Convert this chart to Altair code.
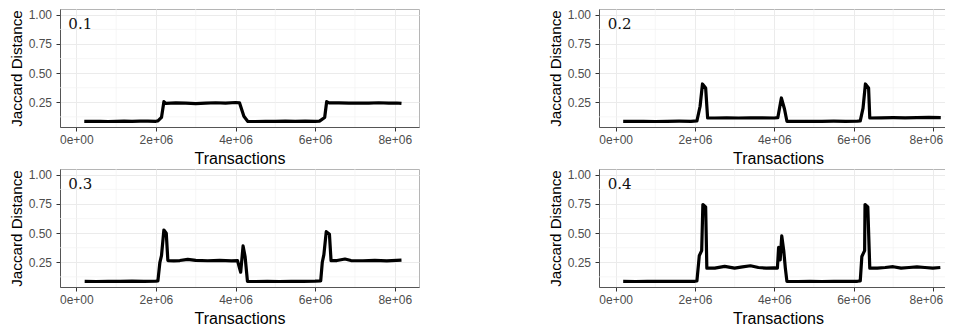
import altair as alt
import pandas as pd

# ---------------- data (x in millions of transactions) ----------------
x_01 = [0.2, 0.4, 0.6, 0.8, 1.0, 1.2, 1.4, 1.6, 1.8, 2.0, 2.05, 2.14, 2.2, 2.25, 2.5, 2.75, 3.0, 3.25, 3.5,
        3.75, 4.0, 4.1, 4.21, 4.31, 4.5, 4.75, 5.0, 5.25, 5.5, 5.75, 6.0, 6.11, 6.24, 6.29, 6.35, 6.6, 6.85,
        7.1, 7.35, 7.6, 7.85, 8.05, 8.17]
y_01 = [0.087, 0.086, 0.087, 0.085, 0.086, 0.088, 0.087, 0.089, 0.088, 0.087, 0.09, 0.12, 0.255, 0.24, 0.245,
        0.243, 0.238, 0.242, 0.246, 0.243, 0.248, 0.245, 0.13, 0.086, 0.085, 0.087, 0.086, 0.088, 0.087, 0.089,
        0.087, 0.088, 0.12, 0.255, 0.245, 0.245, 0.242, 0.244, 0.243, 0.246, 0.243, 0.244, 0.24]

x_02 = [0.19, 0.4, 0.7, 1.0, 1.3, 1.6, 1.9, 2.05, 2.13, 2.19, 2.27, 2.32, 2.5, 2.8, 3.1, 3.4, 3.7, 4.0, 4.09,
        4.18, 4.26, 4.32, 4.6, 4.9, 5.2, 5.5, 5.8, 6.1, 6.17, 6.24, 6.3, 6.38, 6.41, 6.7, 7.0, 7.3, 7.6, 7.9, 8.2]
y_02 = [0.087, 0.086, 0.087, 0.085, 0.087, 0.088, 0.087, 0.09, 0.216, 0.407, 0.373, 0.115, 0.115, 0.117, 0.115,
        0.116, 0.117, 0.115, 0.118, 0.287, 0.19, 0.087, 0.086, 0.087, 0.087, 0.088, 0.087, 0.088, 0.09, 0.2,
        0.407, 0.373, 0.115, 0.117, 0.118, 0.117, 0.118, 0.12, 0.118]

x_03 = [0.21, 0.5, 0.8, 1.1, 1.4, 1.7, 2.0, 2.05, 2.1, 2.14, 2.2, 2.26, 2.3, 2.45, 2.6, 2.8, 3.0, 3.3, 3.6, 3.9,
        4.05, 4.1, 4.13, 4.19, 4.24, 4.3, 4.5, 4.8, 5.1, 5.4, 5.7, 6.0, 6.14, 6.18, 6.22, 6.28, 6.36, 6.4, 6.55,
        6.75, 6.9, 7.2, 7.5, 7.8, 8.17]
y_03 = [0.086, 0.085, 0.087, 0.086, 0.088, 0.087, 0.088, 0.09, 0.25, 0.307, 0.527, 0.5, 0.265, 0.262, 0.265,
        0.275, 0.266, 0.263, 0.266, 0.262, 0.265, 0.2, 0.165, 0.39, 0.3, 0.086, 0.085, 0.086, 0.085, 0.087,
        0.086, 0.088, 0.09, 0.25, 0.315, 0.513, 0.49, 0.265, 0.265, 0.278, 0.265, 0.263, 0.266, 0.262, 0.268]

x_04 = [0.19, 0.5, 0.8, 1.1, 1.4, 1.7, 2.0, 2.05, 2.11, 2.17, 2.2, 2.27, 2.3, 2.5, 2.75, 3.0, 3.2, 3.4, 3.6,
        3.8, 4.0, 4.08, 4.11, 4.15, 4.19, 4.24, 4.28, 4.32, 4.6, 4.9, 5.2, 5.5, 5.8, 6.1, 6.17, 6.21, 6.28,
        6.29, 6.36, 6.41, 6.6, 6.8, 7.0, 7.2, 7.4, 7.6, 7.8, 8.0, 8.19]
y_04 = [0.086, 0.085, 0.087, 0.086, 0.087, 0.086, 0.087, 0.09, 0.307, 0.35, 0.745, 0.725, 0.2, 0.2, 0.215, 0.2,
        0.21, 0.22, 0.205, 0.2, 0.202, 0.2, 0.377, 0.27, 0.476, 0.35, 0.2, 0.086, 0.085, 0.086, 0.085, 0.087,
        0.086, 0.087, 0.09, 0.3, 0.35, 0.745, 0.725, 0.2, 0.2, 0.205, 0.212, 0.2, 0.205, 0.21, 0.205, 0.2, 0.205]

panel_labels = ["0.1", "0.2", "0.3", "0.4"]
x_ticks = [0, 2e6, 4e6, 6e6, 8e6]
x_minor = [1e6, 3e6, 5e6, 7e6]
y_ticks = [0.25, 0.5, 0.75, 1.0]
y_minor = [0.125, 0.375, 0.625, 0.875]
label_pos = (-0.2e6, 0.88)

FONT = "Liberation Sans"
X_LABEL_EXPR = "datum.value == 0 ? '0e+00' : format(datum.value / 1e6, 'd') + 'e+06'"


def x_axis(last_shift=0):
    kw = dict(
        values=x_ticks, title="Transactions", labelExpr=X_LABEL_EXPR,
        grid=True, gridColor="#EBEBEB", gridWidth=1,
        tickSize=4, tickColor="#333333", labelPadding=3.5, titleY=23,
        domainColor="#555555",
    )
    if last_shift:
        kw["labelOffset"] = {"condition": {"test": "datum.value == 8000000", "value": last_shift}, "value": 0}
    return alt.Axis(**kw)


Y_AXIS = alt.Axis(
    values=y_ticks, title="Jaccard Distance", format=".2f",
    grid=True, gridColor="#EBEBEB", gridWidth=1,
    tickSize=4, tickColor="#333333", labelPadding=4.5, titleX=-36, titleFontSize=15.2,
    domainColor="#555555",
)


def panel(xs, ys, label, width, height, xdom, ydom, last_shift=0):
    X_AXIS = x_axis(last_shift)
    df = pd.DataFrame({"x": [v * 1e6 for v in xs], "y": ys})
    xs_ = alt.Scale(domain=xdom, nice=False, zero=False)
    ys_ = alt.Scale(domain=ydom, nice=False, zero=False)
    minor_x = alt.Chart(pd.DataFrame({"v": x_minor})).mark_rule(
        color="#F2F2F2", strokeWidth=0.7
    ).encode(x=alt.X("v:Q", scale=xs_, axis=X_AXIS))
    minor_y = alt.Chart(pd.DataFrame({"v": y_minor})).mark_rule(
        color="#F2F2F2", strokeWidth=0.7
    ).encode(y=alt.Y("v:Q", scale=ys_, axis=Y_AXIS))
    line = alt.Chart(df).mark_line(color="black", strokeWidth=3.2, strokeJoin="round").encode(
        x=alt.X("x:Q", scale=xs_, axis=X_AXIS),
        y=alt.Y("y:Q", scale=ys_, axis=Y_AXIS),
    )
    txt = alt.Chart(pd.DataFrame({"x": [label_pos[0]], "y": [label_pos[1]], "t": [label]})).mark_text(
        font="DejaVu Serif", fontSize=15, align="left", baseline="alphabetic", color="#111111"
    ).encode(
        x=alt.X("x:Q", scale=xs_, axis=X_AXIS),
        y=alt.Y("y:Q", scale=ys_, axis=Y_AXIS),
        text="t:N",
    )
    return alt.layer(minor_x, minor_y, line, txt).properties(width=width, height=height)


xl = [-0.41e6, 8.61e6]
xr = [-0.42e6, 8.61e6]
yd = [0.038, 1.05]

top = alt.hconcat(
    panel(x_01, y_01, panel_labels[0], 359, 118, xl, yd),
    panel(x_02, y_02, panel_labels[1], 358, 118, xr, yd, last_shift=-7),
    spacing=180, bounds="flush",
)
bottom = alt.hconcat(
    panel(x_03, y_03, panel_labels[2], 359, 118, xl, yd),
    panel(x_04, y_04, panel_labels[3], 358, 118, xr, yd, last_shift=-7),
    spacing=180, bounds="flush",
)

chart = alt.vconcat(top, bottom, spacing=1).properties(
    padding={"left": 0, "top": 0, "right": -13, "bottom": 0}
).configure_view(
    stroke="#B5B5B5", strokeWidth=1
).configure_axis(
    labelFont=FONT, titleFont=FONT, labelFontSize=12, titleFontSize=16,
    labelColor="#4D4D4D", titleColor="#000000", titleFontWeight="normal",
)

chart.save("out.html", embed_options={"renderer": "svg", "actions": False})
